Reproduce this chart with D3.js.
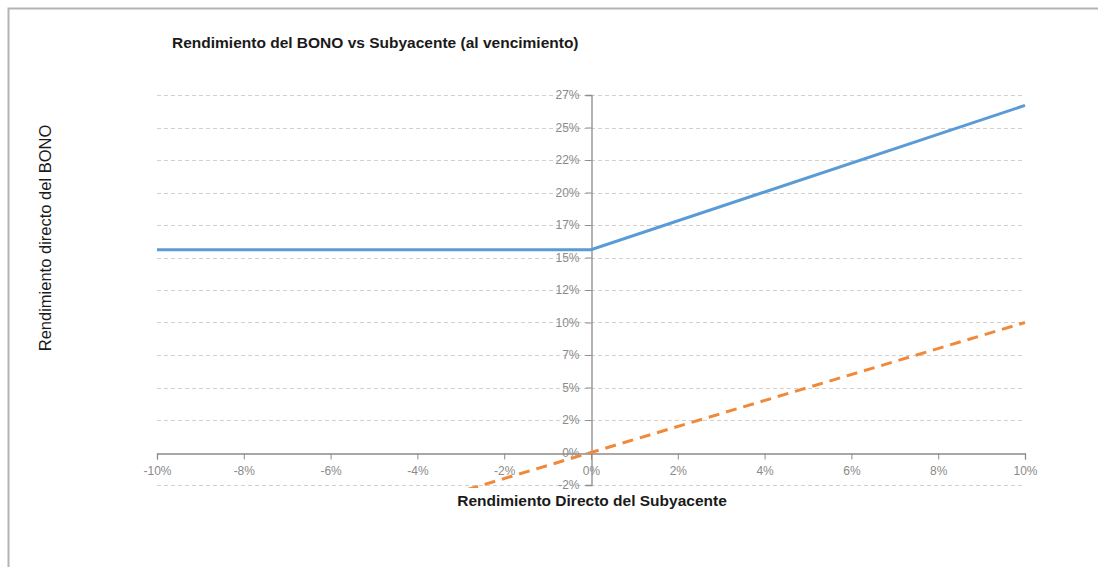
<!DOCTYPE html>
<html>
<head>
<meta charset="utf-8">
<script src="https://cdn.jsdelivr.net/npm/d3@7"></script>
<style>
  body { margin: 0; background: #fff; }
  svg { display: block; }
  text { font-family: "Liberation Sans", Arial, sans-serif; }
</style>
</head>
<body>
<svg id="chart" width="1098" height="567"></svg>
<script>
"use strict";

// Rendimiento del subyacente (eje X), en %
const subyacente = [-10, 0, 10];
// Rendimiento del bono al vencimiento, en %
const bono = [15.6, 15.6, 26.7];
// Rendimiento directo del subyacente (referencia, linea discontinua)
const directo = [-10, 0, 10];

const xTicks = [-10, -8, -6, -4, -2, 0, 2, 4, 6, 8, 10];
const yTicks = [-2.5, 0, 2.5, 5, 7.5, 10, 12.5, 15, 17.5, 20, 22.5, 25, 27.5];

const svg = d3.select('#chart');

// Marco exterior (solo arriba e izquierda visibles)
svg.append('path')
    .attr('d', 'M8.5,567 V8.5 H1098')
    .attr('fill', 'none')
    .attr('stroke', '#b3b3b3')
    .attr('stroke-width', 2);

const plot = { left: 157, right: 1025, top: 95, bottom: 485 };

const x = d3.scaleLinear().domain([-10, 10]).range([plot.left, plot.right]);
const y = d3.scaleLinear().domain([-2.5, 27.5]).range([plot.bottom, plot.top]);

// Lineas de cuadricula discontinuas
svg.append('g')
    .selectAll('line')
    .data(yTicks.filter(d => d !== 0))
    .enter().append('line')
        .attr('x1', plot.left)
        .attr('x2', plot.right)
        .attr('y1', d => Math.round(y(d)) + 0.5)
        .attr('y2', d => Math.round(y(d)) + 0.5)
        .attr('stroke', '#d0d0d0')
        .attr('stroke-dasharray', '4,3');

const axisColor = '#8c8c8c';
const labelColor = '#8a8a8a';

// Eje X en y = 0
const xAxis = svg.append('g')
    .attr('transform', `translate(0,${Math.round(y(0)) + 0.5})`)
    .call(d3.axisBottom(x).tickValues(xTicks).tickSize(6).tickSizeOuter(6)
        .tickFormat(d => d + '%'));

// Eje Y en x = 0
const yAxis = svg.append('g')
    .attr('transform', `translate(${Math.round(x(0)) + 0.5},0)`)
    .call(d3.axisLeft(y).tickValues(yTicks).tickSize(6).tickSizeOuter(6)
        .tickFormat(d => Math.trunc(d) + '%'));

[xAxis, yAxis].forEach(a => {
    a.select('.domain').attr('stroke', axisColor).attr('stroke-width', 1.3);
    a.selectAll('.tick line').attr('stroke', axisColor);
    a.selectAll('.tick text')
        .attr('fill', labelColor)
        .style('font-size', '12px')
        .style('font-family', '"Liberation Sans", Arial, sans-serif');
});
xAxis.selectAll('.tick text').attr('dy', '1.0em');
yAxis.selectAll('.tick text').attr('x', -12);

// Series
svg.append('clipPath').attr('id', 'plotclip')
    .append('rect')
        .attr('x', plot.left)
        .attr('y', plot.top - 5)
        .attr('width', plot.right - plot.left + 2)
        .attr('height', plot.bottom - plot.top + 8);

const line = d3.line().x(d => x(d[0])).y(d => y(d[1]));

svg.append('path')
    .datum(d3.zip(subyacente, directo))
    .attr('clip-path', 'url(#plotclip)')
    .attr('d', line)
    .attr('fill', 'none')
    .attr('stroke', '#f08a3a')
    .attr('stroke-width', 3)
    .attr('stroke-dasharray', '11,7');

svg.append('path')
    .datum(d3.zip(subyacente, bono))
    .attr('d', line)
    .attr('fill', 'none')
    .attr('stroke', '#5b9bd5')
    .attr('stroke-width', 3);

// Titulos
svg.append('text')
    .attr('x', 172)
    .attr('y', 48)
    .attr('fill', '#1a1a1a')
    .style('font-size', '15.5px')
    .style('font-weight', 'bold')
    .text('Rendimiento del BONO vs Subyacente (al vencimiento)');

svg.append('text')
    .attr('x', 592)
    .attr('y', 506)
    .attr('text-anchor', 'middle')
    .attr('fill', '#1a1a1a')
    .style('font-size', '15.5px')
    .style('font-weight', 'bold')
    .text('Rendimiento Directo del Subyacente');

svg.append('text')
    .attr('transform', 'translate(51,238) rotate(-90)')
    .attr('text-anchor', 'middle')
    .attr('fill', '#1a1a1a')
    .style('font-size', '16.5px')
    .text('Rendimiento directo del BONO');
</script>
</body>
</html>
